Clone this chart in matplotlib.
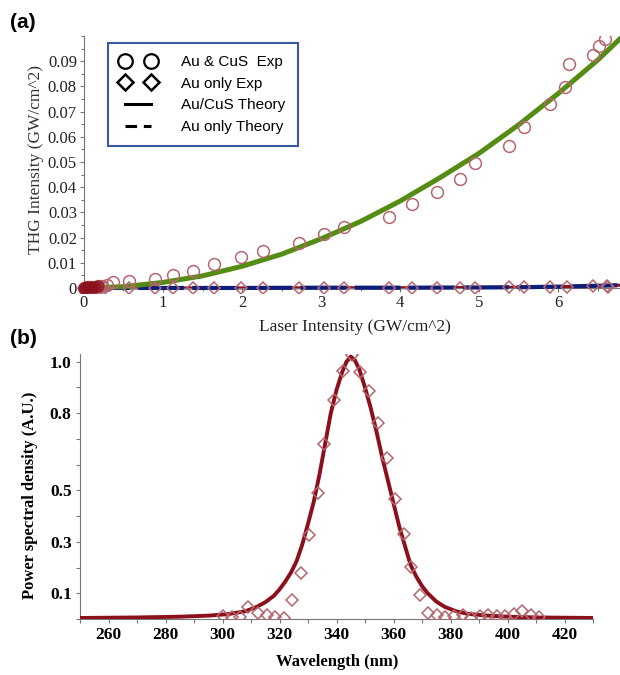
import numpy as np
import matplotlib
matplotlib.use("Agg")
from matplotlib import pyplot as plt
from matplotlib.lines import Line2D
from matplotlib.ticker import MultipleLocator, FixedLocator, FuncFormatter

# ---- panel (a) data: THG intensity vs laser intensity (GW/cm^2) ----
laser_exp = [0, 0.02, 0.04, 0.07, 0.10, 0.14, 0.18, 0.23, 0.29, 0.37, 0.57, 0.90, 1.13,
             1.38, 1.65, 1.99, 2.27, 2.72, 3.04, 3.29, 3.86, 4.15, 4.47, 4.76, 4.95,
             5.37, 5.56, 5.89, 6.08, 6.13, 6.44, 6.51, 6.59]
thg_aucus_exp = [0, 0.0001, 0.0002, 0.0003, 0.0004, 0.0005, 0.0006, 0.0008, 0.0011, 0.0024,
                 0.0028, 0.0036, 0.0052, 0.0067, 0.0095, 0.0123, 0.0147, 0.0179, 0.0214,
                 0.0242, 0.0282, 0.0333, 0.0381, 0.0433, 0.0496, 0.0563, 0.0639, 0.0730,
                 0.0798, 0.0889, 0.0925, 0.0960, 0.0988]
laser_au = [0, 0.02, 0.05, 0.08, 0.12, 0.16, 0.21, 0.27, 0.57, 0.90, 1.13, 1.38, 1.65, 1.99,
            2.27, 2.72, 3.04, 3.29, 3.86, 4.15, 4.47, 4.76, 4.95, 5.37, 5.56, 5.90, 6.11,
            6.44, 6.61, 6.63]
thg_au_exp = [0, 0, 0, 0, 0, 0, 0, 0, 0, 0, 0, 0, 0, 0, 0, 0, 0, 0, 0, 0, 0.0001, 0.0001,
              0.0001, 0.0002, 0.0002, 0.0003, 0.0004, 0.0007, 0.0009, 0.0003]

laser_th = [0, 0.5, 1.0, 1.5, 2.0, 2.5, 3.0, 3.5, 4.0, 4.5, 5.0, 5.5, 6.0, 6.5, 6.8]
thg_aucus_th = [0, 0.0005, 0.0022, 0.0048, 0.0086, 0.0134, 0.0195, 0.0264, 0.0345,
                0.0437, 0.0535, 0.0648, 0.0772, 0.0905, 0.0995]
laser_au_th = [0, 1, 2, 3, 4, 5, 5.5, 6.0, 6.4, 6.8]
thg_au_th = [0, 0, 0, 0.0001, 0.0001, 0.0002, 0.0003, 0.0005, 0.0008, 0.0011]

# ---- panel (b) data: power spectral density vs wavelength (nm) ----
wl_exp = [300.3, 303.5, 306.3, 308.8, 312.3, 315.5, 318.3, 321.5, 324.3, 327.4, 330.3,
          333.4, 335.5, 339.1, 342.2, 345.4, 348.2, 351.4, 354.5, 357.7, 360.5, 363.7,
          366.2, 369.3, 372.1, 375.3, 378.1, 381.3, 384.5, 387.3, 390.4, 393.3, 396.4,
          399.2, 402.4, 405.2, 408.4, 411.2]
psd_exp = [0.012, 0.008, 0.008, 0.047, 0.023, 0.016, 0.008, 0.004, 0.074, 0.179, 0.327,
           0.490, 0.681, 0.852, 0.965, 1.027, 0.961, 0.887, 0.763, 0.626, 0.467, 0.331,
           0.202, 0.093, 0.025, 0.016, 0.008, 0.012, 0.016, 0.004, 0.012, 0.016, 0.012,
           0.012, 0.019, 0.031, 0.016, 0.008]
wl_fit = [250, 270, 285, 295, 302, 308, 312, 315, 318, 320, 322, 324, 326, 328, 330, 332,
          334, 336, 338, 340, 342, 343.5, 345, 346.5, 348, 350, 352, 354, 356, 358, 360,
          362, 364, 366, 368, 370, 372, 375, 378, 382, 386, 392, 400, 410, 420, 430]
psd_fit = [0.004, 0.006, 0.009, 0.013, 0.019, 0.030, 0.047, 0.065, 0.090, 0.115, 0.145,
           0.180, 0.225, 0.290, 0.370, 0.455, 0.560, 0.680, 0.800, 0.890, 0.960, 1.000,
           1.020, 1.005, 0.970, 0.900, 0.820, 0.730, 0.630, 0.540, 0.450, 0.360, 0.285,
           0.210, 0.165, 0.128, 0.100, 0.068, 0.047, 0.030, 0.020, 0.014, 0.009, 0.006,
           0.005, 0.004]

serif = "Liberation Serif"
sans = "Liberation Sans"
rose = "#b5666e"
darkred = "#8c0f1c"

fig = plt.figure(figsize=(6.2, 6.75), dpi=100)

# ================= (a) =================
ax = fig.add_axes([76 / 620, 1 - 293 / 675, 544 / 620, 257 / 675])
ax.plot(laser_au_th, thg_au_th, color=darkred, lw=2.2, zorder=2)
ax.plot(laser_au_th, thg_au_th, color="#0b1f7a", lw=3, dashes=(11, 2), zorder=3)
ax.plot(laser_th, thg_aucus_th, color="#558c14", lw=3.6, zorder=4)
ax.plot(laser_au, thg_au_exp, ls="none", marker="D", ms=6.5, mfc="none", mec=rose,
        mew=1.1, zorder=5)
ax.plot(laser_exp, thg_aucus_exp, ls="none", marker="o", ms=8.5, mfc="none", mec=rose,
        mew=1.1, zorder=5)
# dense overlap near the origin reads as a dark blob
ax.plot(laser_exp[:7], thg_aucus_exp[:7], ls="none", marker="o", ms=8, mfc=darkred,
        mec=darkred, alpha=0.6, zorder=5)

ax.set_xlim(-0.1, 6.78)
ax.set_ylim(-0.002, 0.1)
for s in ["top", "right"]:
    ax.spines[s].set_visible(False)
ax.spines["left"].set_position(("data", 0))
ax.spines["bottom"].set_position(("data", 0))
for s in ["left", "bottom"]:
    ax.spines[s].set_color("#777777")
    ax.spines[s].set_linewidth(0.8)
ax.spines["left"].set_bounds(0, 0.1)
ax.xaxis.set_major_locator(FixedLocator([0, 1, 2, 3, 4, 5, 6]))
ax.xaxis.set_minor_locator(MultipleLocator(0.5))
ax.yaxis.set_major_locator(FixedLocator([0, 0.01, 0.02, 0.03, 0.04, 0.05, 0.06, 0.07, 0.08, 0.09]))
ax.yaxis.set_minor_locator(MultipleLocator(0.005))
ax.yaxis.set_major_formatter(FuncFormatter(lambda v, p: "0" if abs(v) < 1e-9 else f"{v:.2f}"))
ax.tick_params(which="both", direction="out", color="#777777", width=0.8)
ax.tick_params(which="major", length=3, labelsize=12, labelcolor="#222222", pad=2)
ax.tick_params(which="minor", length=2)
for lab in ax.get_xticklabels() + ax.get_yticklabels():
    lab.set_fontfamily(serif)

handles = [
    Line2D([], [], ls="none", marker="o", ms=10.5, mfc="none", mec="black", mew=1.6),
    Line2D([], [], ls="none", marker="D", ms=8, mfc="none", mec="black", mew=1.8),
    Line2D([], [], color="black", lw=2.2),
    Line2D([], [], color="black", lw=2.2, dashes=(3.8, 2.2)),
]
labels = ["Au & CuS  Exp", "Au only Exp", "Au/CuS Theory", "Au only Theory"]
leg = ax.legend(handles, labels, loc="upper left", bbox_to_anchor=(0.0588, 0.973),
                borderaxespad=0, numpoints=2, handlelength=2.3, handletextpad=1.7,
                labelspacing=0.5, borderpad=0.8, fancybox=False, framealpha=1,
                edgecolor="#3a5aa0", prop={"family": sans, "size": 11})
leg.get_frame().set_linewidth(1.5)

fig.text(355 / 620, 1 - 327 / 675, "Laser Intensity (GW/cm^2)", family=serif, fontsize=12.5,
         color="#222222", ha="center", va="center")
fig.text(36 / 620, 1 - 160 / 675, "THG Intensity (GW/cm^2)", family=serif, fontsize=12.5,
         color="#3a3030", ha="center", va="center", rotation=90)
fig.text(10 / 620, 1 - 22 / 675, "(a)", family=sans, fontsize=15, fontweight="bold",
         ha="left", va="center")

# ================= (b) =================
bx = fig.add_axes([80 / 620, 1 - 619 / 675, 513 / 620, 265 / 675])
bx.plot(wl_fit, psd_fit, color=darkred, lw=2.8, zorder=3)
bx.plot(wl_exp, psd_exp, ls="none", marker="D", ms=6.5, mfc="none", mec=rose, mew=1.1,
        zorder=4)
bx.set_xlim(250, 430)
bx.set_ylim(0, 1.03)
for s in ["top", "right"]:
    bx.spines[s].set_visible(False)
for s in ["left", "bottom"]:
    bx.spines[s].set_color("#777777")
    bx.spines[s].set_linewidth(0.8)
bx.xaxis.set_major_locator(FixedLocator([260, 280, 300, 320, 340, 360, 380, 400, 420]))
bx.xaxis.set_minor_locator(MultipleLocator(10))
bx.yaxis.set_major_locator(FixedLocator([0.1, 0.3, 0.5, 0.8, 1.0]))
bx.yaxis.set_minor_locator(MultipleLocator(0.1))
bx.yaxis.set_major_formatter(FuncFormatter(lambda v, p: f"{v:.1f}"))
bx.tick_params(which="both", direction="out", color="#777777", width=0.8)
bx.tick_params(which="major", length=3, labelsize=12.5, pad=3)
bx.tick_params(which="minor", length=3)
for lab in bx.get_xticklabels() + bx.get_yticklabels():
    lab.set_fontfamily(serif)
    lab.set_fontweight("bold")

fig.text(337 / 620, 1 - 662 / 675, "Wavelength (nm)", family=serif, fontsize=12,
         fontweight="bold", ha="center", va="center")
fig.text(30 / 620, 1 - 495 / 675, "Power spectral density (A.U.)", family=serif,
         fontsize=12, fontweight="bold", ha="center", va="center", rotation=90)
fig.text(10 / 620, 1 - 338 / 675, "(b)", family=sans, fontsize=15, fontweight="bold",
         ha="left", va="center")

fig.savefig("out.png", dpi=100)
